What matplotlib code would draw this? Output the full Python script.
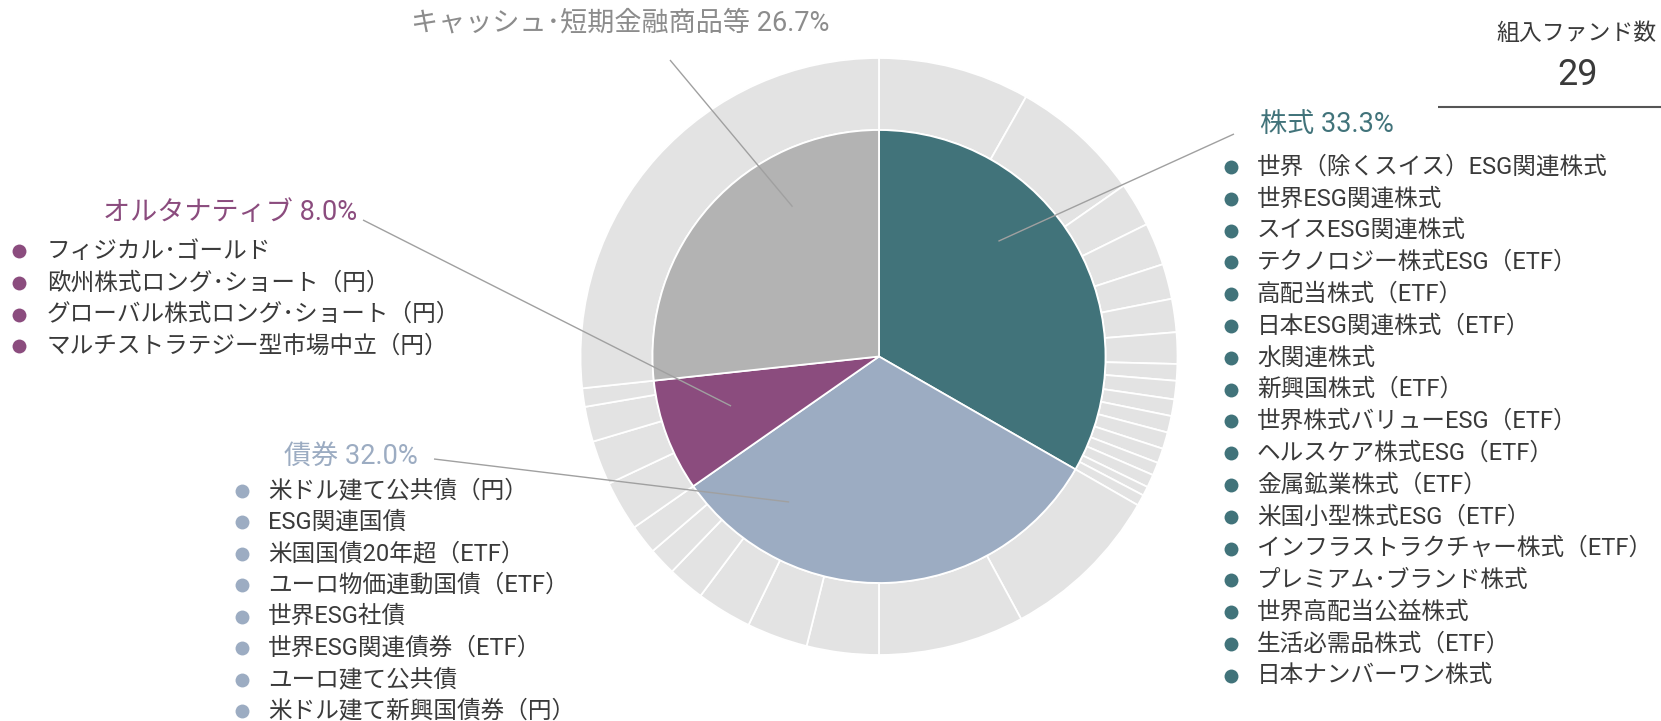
import matplotlib
matplotlib.use("Agg")
import matplotlib.pyplot as plt
import numpy as np

plt.rcParams['font.family'] = ['Roboto', 'Noto Sans CJK JP', 'DejaVu Sans']

# asset classes (inner ring), clockwise from 12 o'clock
classes = ['株式', '債券', 'オルタナティブ', 'キャッシュ･短期金融商品等']
class_pct = [33.3, 32.0, 8.0, 26.7]

stock_names = ['世界（除くスイス）ESG関連株式', '世界ESG関連株式', 'スイスESG関連株式',
               'テクノロジー株式ESG（ETF）', '高配当株式（ETF）', '日本ESG関連株式（ETF）',
               '水関連株式', '新興国株式（ETF）', '世界株式バリューESG（ETF）',
               'ヘルスケア株式ESG（ETF）', '金属鉱業株式（ETF）', '米国小型株式ESG（ETF）',
               'インフラストラクチャー株式（ETF）', 'プレミアム･ブランド株式', '世界高配当公益株式',
               '生活必需品株式（ETF）', '日本ナンバーワン株式']
stock_pct = [8.2, 7.1, 2.4, 2.3, 1.9, 1.8, 1.7, 0.9, 1.0, 0.9, 0.9, 0.9, 0.8, 0.7, 0.7, 0.5, 0.6]

bond_names = ['米ドル建て公共債（円）', 'ESG関連国債', '米国国債20年超（ETF）', 'ユーロ物価連動国債（ETF）',
              '世界ESG社債', '世界ESG関連債券（ETF）', 'ユーロ建て公共債', '米ドル建て新興国債券（円）']
bond_pct = [8.8, 7.9, 3.9, 3.3, 3.0, 2.0, 1.5, 1.6]

alt_names = ['フィジカル･ゴールド', '欧州株式ロング･ショート（円）',
             'グローバル株式ロング･ショート（円）', 'マルチストラテジー型市場中立（円）']
alt_pct = [2.7, 2.4, 1.9, 1.0]

cash_pct = [26.7]

colors = ['#41737a', '#9cacc2', '#8b4c7e', '#b3b3b3']
label_colors = ['#41737a', '#9cacc2', '#8b4c7e', '#8c8c8c']
ring_color = '#e3e3e3'
text_color = '#3a3a3a'

W, H = 1661, 721
cx, cy, R = 879, 356.5, 298.5
r_in = 226.5 / R

fig = plt.figure(figsize=(W / 100, H / 100), dpi=100)

ax = fig.add_axes([(cx - R) / W, (H - cy - R) / H, 2 * R / W, 2 * R / H])
outer_vals = stock_pct + bond_pct + alt_pct + cash_pct
ax.pie(outer_vals, radius=1.0, colors=[ring_color] * len(outer_vals),
       startangle=90, counterclock=False,
       wedgeprops=dict(width=1.0 - r_in, edgecolor='white', linewidth=1.3))
ax.pie(class_pct, radius=r_in, colors=colors, startangle=90, counterclock=False,
       wedgeprops=dict(edgecolor='white', linewidth=1.3))
ax.set_xlim(-1, 1)
ax.set_ylim(-1, 1)
ax.set_aspect('auto')
ax.axis('off')

# overlay in pixel coordinates for labels
ov = fig.add_axes([0, 0, 1, 1])
ov.set_xlim(0, W)
ov.set_ylim(H, 0)
ov.axis('off')


def leader(x0, y0, ang, rad):
    t = np.deg2rad(ang)
    x1 = cx + rad * np.sin(t)
    y1 = cy - rad * np.cos(t)
    ov.plot([x0, x1], [y0, y1], color='#a0a0a0', lw=1.0, solid_capstyle='butt')


def fund_list(names, col, xb, xt, y0, dy):
    for i, n in enumerate(names):
        y = y0 + i * dy
        ov.plot([xb], [y], 'o', ms=10, color=col, mec='none')
        ov.text(xt, y, n, fontsize=17, color=text_color, va='center', ha='left')


lab_fs = 19.5

# 株式
ov.text(1260, 124, f'{classes[0]} {class_pct[0]:.1f}%', fontsize=lab_fs,
        color=label_colors[0], va='center', ha='left')
leader(1234, 134, 46, 166)
fund_list(stock_names, colors[0], 1231, 1257, 167, 31.8)

# オルタナティブ
ov.text(103, 213, f'{classes[2]} {class_pct[2]:.1f}%', fontsize=lab_fs,
        color=label_colors[2], va='center', ha='left')
leader(363, 220, 251.5, 156)
fund_list(alt_names, colors[2], 19, 47, 251, 31.8)

# 債券
ov.text(284, 457, f'{classes[1]} {class_pct[1]:.1f}%', fontsize=lab_fs,
        color=label_colors[1], va='center', ha='left')
leader(434, 459, 211.7, 171)
fund_list(bond_names, colors[1], 241.5, 268, 490.5, 31.5)

# キャッシュ
ov.text(620, 23, f'{classes[3]} {class_pct[3]:.1f}%', fontsize=lab_fs,
        color=label_colors[3], va='center', ha='center')
leader(670, 60, 330, 173)

# fund count
n_funds = len(stock_names) + len(bond_names) + len(alt_names)
ov.text(1657, 33, '組入ファンド数', fontsize=16.5, color=text_color, va='center', ha='right')
ov.text(1578, 75, str(n_funds), fontsize=26, color=text_color, va='center', ha='center')
ov.plot([1438, W], [107, 107], color='#555555', lw=1.5, solid_capstyle='butt')

fig.savefig('out.png', dpi=100)
